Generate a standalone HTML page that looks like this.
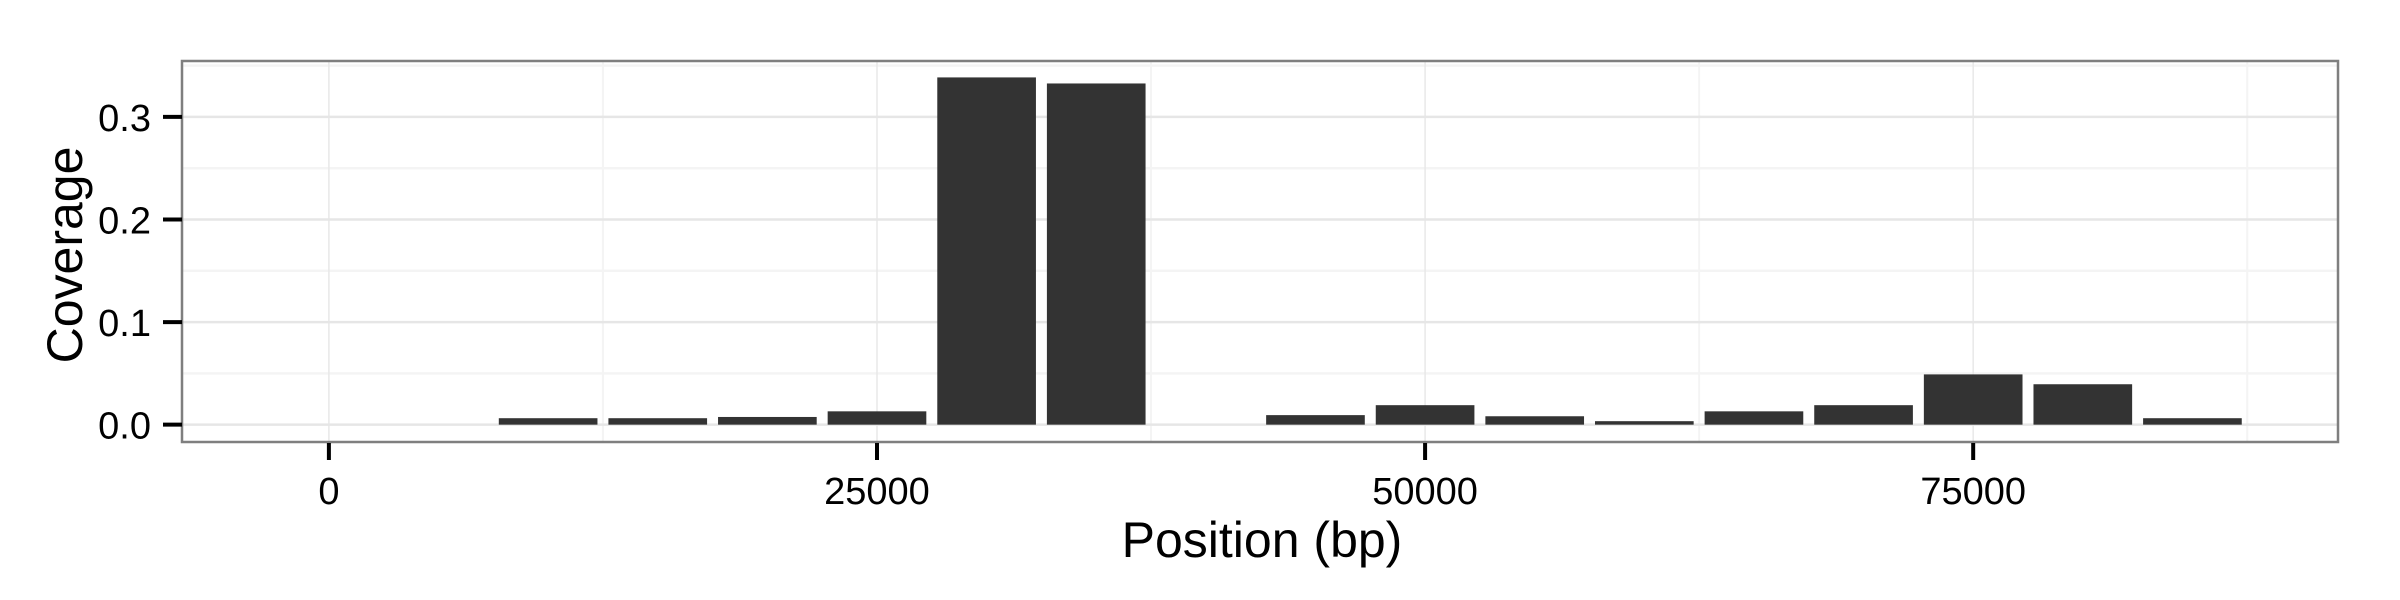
<!DOCTYPE html>
<html><head><meta charset="utf-8">
<style>
html,body{margin:0;padding:0;background:#fff;}
svg{display:block;}
text{font-family:"Liberation Sans",sans-serif;}
</style></head>
<body>
<svg id="chart" width="2400" height="600" viewBox="0 0 2400 600" xmlns="http://www.w3.org/2000/svg">
<rect x="0" y="0" width="2400" height="600" fill="#fff"/>
<g id="grid-minor"></g>
<g id="grid-major"></g>
<g id="bars"></g>
<rect x="182" y="61" width="2156" height="381" fill="none" stroke="#7f7f7f" stroke-width="2.5"/>
<g id="axes"></g>
<text x="1262" y="557" font-size="50" text-anchor="middle" fill="#000">Position (bp)</text>
<text transform="translate(82,255) rotate(-90)" font-size="50" text-anchor="middle" fill="#000">Coverage</text>
</svg>
<script>
const positions = [10000,15000,20000,25000,30000,35000,45000,50000,55000,60000,65000,70000,75000,80000,85000];
const coverage = [0.0063,0.0063,0.0075,0.013,0.3385,0.3326,0.0093,0.019,0.0082,0.0034,0.013,0.019,0.049,0.0394,0.0063];
const xTicks = [0,25000,50000,75000];
const xTickLabels = ["0","25000","50000","75000"];
const yTicks = [0,0.1,0.2,0.3];
const yTickLabels = ["0.0","0.1","0.2","0.3"];
const binWidth = 5000;

const NS = "http://www.w3.org/2000/svg";
const PL = 182, PR = 2338, PT = 61, PB = 442;
const xMin = -6700, xMax = 91640, yMin = -0.0169, yMax = 0.3545;
function xs(v){ return PL + (v - xMin) / (xMax - xMin) * (PR - PL); }
function ys(v){ return PB - (v - yMin) / (yMax - yMin) * (PB - PT); }
function mk(tag, attrs, parent){
  const e = document.createElementNS(NS, tag);
  for (const k in attrs) e.setAttribute(k, attrs[k]);
  parent.appendChild(e); return e;
}
const gMin = document.getElementById('grid-minor');
const gMaj = document.getElementById('grid-major');
const gBars = document.getElementById('bars');
const gAx = document.getElementById('axes');

for (let i = 0; i < xTicks.length; i++) {
  const v = xTicks[i] + 12500;
  const l = mk('line', {x1: xs(v), x2: xs(v), y1: PT, y2: PB, stroke: '#f4f4f4', 'stroke-width': 2}, gMin);
  
  
}
for (let i = 0; i < yTicks.length; i++) {
  const v = yTicks[i] + 0.05;
  const l = mk('line', {x1: PL, x2: PR, y1: ys(v), y2: ys(v), stroke: '#f4f4f4', 'stroke-width': 2.5}, gMin);
  
  
}
xTicks.forEach(v => {
  const l = mk('line', {x1: xs(v), x2: xs(v), y1: PT, y2: PB, stroke: '#e8e8e8', 'stroke-width': 1.5}, gMaj);
  
  
});
yTicks.forEach(v => {
  const l = mk('line', {x1: PL, x2: PR, y1: ys(v), y2: ys(v), stroke: '#e6e6e6', 'stroke-width': 2.5}, gMaj);
  
  
});
positions.forEach((p, i) => {
  const x0 = xs(p - binWidth * 0.45), x1 = xs(p + binWidth * 0.45);
  const y0 = ys(coverage[i]), yb = ys(0);
  const r = mk('rect', {x: x0, y: y0, width: x1 - x0, height: yb - y0, fill: '#333333'}, gBars);
  
  
});
xTicks.forEach((v, i) => {
  const t = mk('line', {x1: xs(v), x2: xs(v), y1: PB + 1, y2: PB + 18, stroke: '#000', 'stroke-width': 4}, gAx);
  
  
  const tx = mk('text', {x: xs(v), y: 504, 'font-size': 38, 'text-anchor': 'middle', fill: '#000'}, gAx);
  tx.textContent = xTickLabels[i];
  
  
});
yTicks.forEach((v, i) => {
  const t = mk('line', {x1: PL - 19, x2: PL, y1: ys(v), y2: ys(v), stroke: '#000', 'stroke-width': 4}, gAx);
  
  
  const tx = mk('text', {x: 151, y: ys(v) + 14, 'font-size': 38, 'text-anchor': 'end', fill: '#000'}, gAx);
  tx.textContent = yTickLabels[i];
  
  
});
</script>
</body></html>
